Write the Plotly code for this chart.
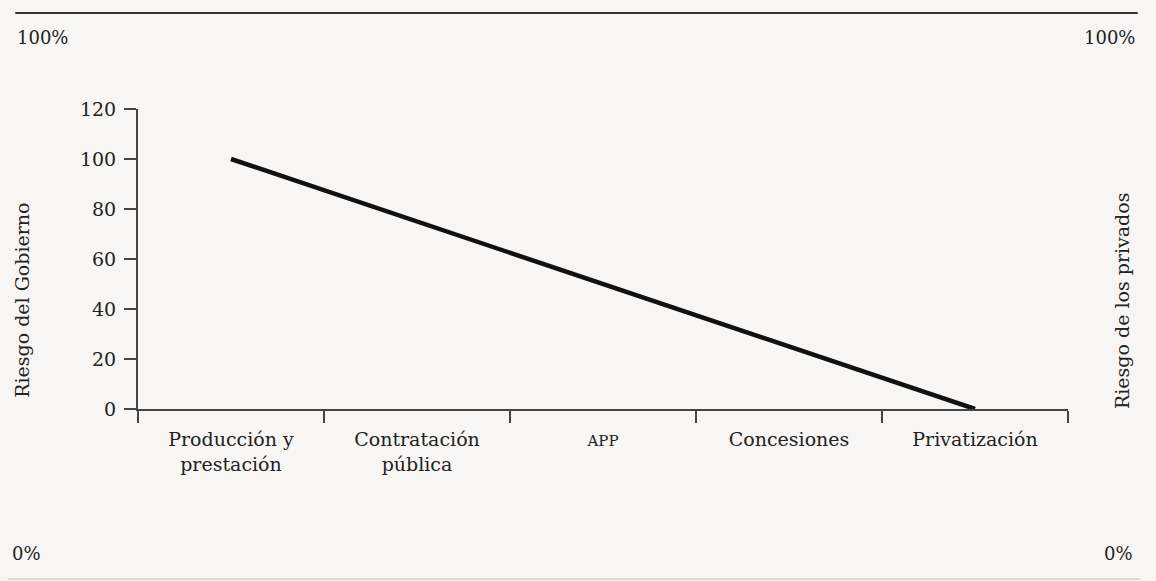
import plotly.graph_objects as go

categories = ["Producción y<br>prestación", "Contratación<br>pública", "<span style='font-size:15px'>APP</span>", "Concesiones", "Privatización"]
riesgo_gobierno = [100, 75, 50, 25, 0]
y_ticks = [0, 20, 40, 60, 80, 100, 120]

FONT = "DejaVu Serif"
INK = "#222222"
BG = "#f8f6f4"

fig = go.Figure()
fig.add_trace(go.Scatter(
    x=categories, y=riesgo_gobierno, mode="lines",
    line=dict(color="#111111", width=4.5), showlegend=False, hoverinfo="skip",
))

fig.update_layout(
    width=1156, height=581,
    margin=dict(l=138, r=88, t=109, b=172),
    paper_bgcolor=BG, plot_bgcolor=BG,
    font=dict(family=FONT, size=19, color=INK),
    xaxis=dict(
        type="category", tickson="boundaries", ticks="outside", ticklen=12, tickwidth=2,
        tickcolor="#444", showline=True, linecolor="#444", linewidth=2,
        showgrid=False, zeroline=False, range=[-0.5, 4.5], ticklabelstandoff=12,
        tickfont=dict(family=FONT, size=19, color=INK),
    ),
    yaxis=dict(
        range=[0, 120], tickvals=y_ticks, ticks="outside", ticklen=12, tickwidth=2,
        tickcolor="#444", showline=True, linecolor="#444", linewidth=2,
        showgrid=False, zeroline=False, ticklabelstandoff=4,
        tickfont=dict(family=FONT, size=19, color=INK),
    ),
)

# Frame lines of the book figure
fig.add_shape(type="line", xref="paper", yref="paper", x0=-0.132, x1=1.075, y0=1.32, y1=1.32,
              line=dict(color="#333", width=2))
fig.add_shape(type="line", xref="paper", yref="paper", x0=-0.14, x1=1.078, y0=-0.567, y1=-0.567,
              line=dict(color="#bbb", width=1))

ann = dict(xref="paper", yref="paper", showarrow=False, font=dict(family=FONT, size=18, color=INK))
fig.add_annotation(text="100%", x=-0.132, y=1.237, xanchor="left", yanchor="middle", **ann)
fig.add_annotation(text="100%", x=1.074, y=1.237, xanchor="right", yanchor="middle", **ann)
fig.add_annotation(text="0%", x=-0.138, y=-0.48, xanchor="left", yanchor="middle", **ann)
fig.add_annotation(text="0%", x=1.072, y=-0.48, xanchor="right", yanchor="middle", **ann)

ttl = dict(xref="paper", yref="paper", showarrow=False, textangle=-90,
           font=dict(family=FONT, size=19, color=INK), xanchor="center", yanchor="middle")
fig.add_annotation(text="Riesgo del Gobierno", x=-0.125, y=0.363, **ttl)
fig.add_annotation(text="Riesgo de los privados", x=1.058, y=0.363, **ttl)

fig.write_html("out.html", config={"displayModeBar": False},
               post_script="document.body.style.margin='0';")
